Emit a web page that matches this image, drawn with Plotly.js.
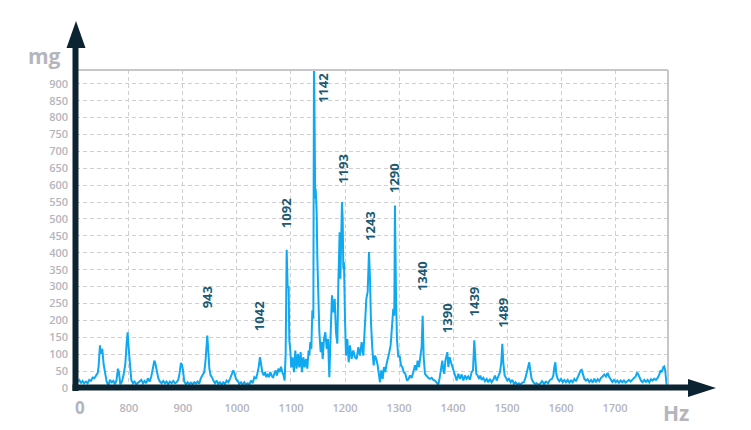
<!DOCTYPE html>
<html>
<head>
<meta charset="utf-8">
<script src="https://cdn.plot.ly/plotly-3.0.1.min.js"></script>
<style>html,body{margin:0;padding:0;background:#fff;}#chart{width:751px;height:430px;}</style>
</head>
<body>
<div id="chart"></div>
<script>
// Frequency (Hz) and mass (mg) of the spectrum line
const freqHz = [
705,708,711,714,717,720.4,723.4,726.5,729.6,732.7,735.8,738.9,742,743.8,746.3,748.1,750.6,753,755.5,758.6,761.7,764.8,767.9,771,774,777,779.6,781.4,783.9,787,790,793.2,795.6,797.5,799.3,801.8,804.3,807.4,810.4,813.5,816.6,819.7,822.8,825.9,829,832,835.1,838.2,841.3,844.4,846.9,848.7,851.2,854.3,857.3,860.4,863.5,866.6,869.7,872.8,875.8,878.9,882,885.1,888.2,891.3,893.7,896.2,898,899.9,902.4,905.5,908.6,911.6,914.7,917.8,920.9,924,927,930,
933.3,936.4,939.5,942,943.8,945,946.9,948.8,951.2,953.7,956.2,959.3,962.4,965.4,968.5,971.6,974.7,977.8,980.9,984,987,990.1,993.2,995.7,998.1,1001.2,1004.3,1007.4,1010.5,1013.6,1016.6,1019.7,1022.8,1025.9,1029,1032.1,1035.2,1037.6,1040.1,1042.6,1044.4,1046.9,1049.4,1051.8,1054.3,1056.8,1059.2,1061.7,1064.2,1066.6,1069.1,1071.6,1074,1076.5,1079,1081.4,1083.9,1086.4,1088.2,1090.1,1092,1093.8,1095.6,1096.9,1098.7,1100.6,1103,1105.5,1108,1110.4,1112.9,1115.4,1117.8,1120.3,1122.8,1125.2,1127.7,1130.2,1132.6,
1134,1135.8,1137.7,1139.5,1141.4,1142.6,1143.8,1144.8,1145.7,1147.5,1148.8,1150.6,1152.5,1155,1156.8,1158.7,1161.1,1163.6,1166,1168.5,1171,1173.5,1175.9,1178.4,1180.9,1183.3,1185.8,1187.7,1188.9,1190.1,1191.4,1192.6,1194.4,1195.7,1196.9,1198.1,1200,1201.8,1204.3,1206.8,1209.2,1212.3,1215.4,1218.5,1221.6,1224.7,1227.8,1230.8,1233.9,1237,1239.5,1242,1244.4,1246.3,1248.1,1250.6,1253.1,1255.5,1258,1260.5,1262.9,1264.8,1267.2,1269.7,1272.2,1274.6,1277.1,1279.6,1282,1284.5,1287,1289.4,1291.3,1292.5,1294.4,1296.2,1298.7,1301.2,1303.6,1306.1,1308.6,1311.7,1314.8,1317.8,
1320.4,1323.4,1326.5,1329.6,1332.1,1334.5,1337,1339.5,1341.9,1343.8,1345.7,1348.1,1351.2,1354.3,1357.4,1360.5,1363.6,1366.6,1369.7,1372.8,1375.3,1377.7,1380.2,1382.1,1383.9,1385.8,1387.6,1389.5,1391.3,1393.8,1396.3,1398.7,1401.2,1403.6,1406.7,1409.8,1412.9,1416,1419.1,1422.2,1425.2,1428.3,1431.4,1434.5,1437,1439.4,1441.3,1443.1,1445.6,1448.1,1450.5,1453,1456.1,1459.2,1462.3,1465.3,1468.4,1471.5,1474.6,1477.7,1480.8,1483.9,1487,1489.4,1491.3,1493.1,1495.6,1498.1,1500.5,1503.6,1506.7,1509.8,1512.9,1515.9,1519,1522.1,1525.2,1528.3,1531.4,1534.5,1536.9,1539.4,1541.2,1543.1,1545.6,1548.6,1551.7,1554.8,1557.9,
1561.1,1564.8,1568.5,1572.2,1575.9,1579.6,1583.3,1585.8,1587.6,1589.5,1591.3,1593.8,1596.9,1600,1603.1,1606.1,1609.2,1612.3,1615.4,1618.5,1621.6,1624.7,1627.7,1630.8,1633.9,1636.4,1638.2,1640.7,1643.2,1646.2,1649.3,1652.4,1655.5,1658.6,1661.7,1664.8,1667.8,1670.9,1674,1677.1,1680.2,1683.3,1686.4,1688.8,1691.9,1695,1698.1,1701.2,1704.2,1707.3,1710.4,1713.5,1716.6,1719.7,1722.8,1725.8,1728.9,1732,1735.1,1738.2,1740.6,1742.5,1745,1748.1,1751.1,1754.2,1757.3,1760.4,1763.5,1766.6,1769.6,1772.7,1775.8,1778.9,1782,1784.5,1786.9,1789.4,1791.2,1793.1,1795,1796.8
];
const massMg = [
19,24,14,21,14,19,14,24,21,31,29,37,44,64,126,101,116,71,50,19,7,24,17,21,11,24,57,47,11,19,39,71,131,165,121,62,24,14,19,11,16,19,24,14,21,14,29,19,34,59,81,74,49,29,19,14,21,14,19,11,19,14,21,14,17,24,44,74,69,54,19,11,17,11,16,11,17,13,19,13,
30,37,47,86,145,155,111,57,37,32,22,14,22,12,17,10,17,12,22,17,27,37,52,42,27,22,12,17,10,17,10,14,10,22,14,32,27,42,61,91,67,47,37,47,32,42,32,47,37,30,42,52,37,57,47,63,47,37,22,101,409,298,298,141,111,61,91,47,111,57,101,61,106,47,91,61,86,57,111,
96,136,116,229,205,1000,590,560,589,520,382,264,165,106,136,86,145,165,116,145,32,165,274,224,264,165,131,313,402,461,323,491,550,500,353,372,205,96,145,76,126,86,111,91,86,121,96,136,96,205,264,284,402,323,195,116,67,96,86,67,37,17,52,27,62,47,72,86,106,126,195,234,214,540,284,145,91,96,67,62,47,42,22,27,
37,30,47,67,52,81,62,86,121,214,91,42,34,30,27,30,24,22,16,10,30,62,81,52,42,81,96,106,62,91,76,62,47,34,22,42,27,40,22,37,27,34,24,47,52,141,91,42,37,27,37,24,30,20,27,17,27,17,24,37,22,34,47,76,131,76,37,30,22,27,17,24,12,17,10,14,10,16,17,32,47,62,76,52,27,17,12,14,10,
12,20,12,19,14,24,27,37,62,76,42,27,20,27,17,24,17,24,16,22,17,27,20,32,42,52,54,39,27,22,26,18,24,16,28,17,26,20,30,34,40,34,45,34,24,18,24,17,22,16,22,17,22,16,20,24,19,26,30,34,44,42,30,22,17,24,18,24,17,26,22,27,24,30,40,52,47,62,64,50,17,2
];
// Peak labels
const peakLabels = ["943","1042","1092","1142","1193","1243","1290","1340","1390","1439","1489"];
// Tick values
const xTicks = [800,900,1000,1100,1200,1300,1400,1500,1600,1700];
const yTicks = [0,50,100,150,200,250,300,350,400,450,500,550,600,650,700,750,800,850,900];

// label placement (Hz x, mg for bottom of rotated text, pixel x shift)
const labelPos = [[944,229,0],[1040,161,0],[1092,466,0],[1142,836,10],[1195,599,0],[1245,430,0],[1292,570,0],[1344,280,0],[1388,155,0],[1439,206,0],[1491,173,0]];

const gray = '#b5b5bd';
const navy = '#0c2431';
const labelColor = '#1a5a72';

const trace = {
  x: freqHz, y: massMg, type: 'scatter', mode: 'lines',
  line: {color: '#0fa9f2', width: 2}, hoverinfo: 'skip'
};

const annotations = peakLabels.map((t, i) => ({
  x: labelPos[i][0], y: labelPos[i][1], xref: 'x', yref: 'y',
  text: '<b>' + t + '</b>', showarrow: false, textangle: -90,
  xanchor: 'center', yanchor: 'bottom', xshift: labelPos[i][2],
  font: {family: 'Open Sans', size: 13, color: labelColor}
}));
annotations.push(
  {xref: 'paper', yref: 'paper', x: -0.054, y: 1.044, text: '<b>mg</b>', showarrow: false,
   xanchor: 'center', yanchor: 'middle', font: {family: 'Open Sans', size: 21, color: gray}},
  {xref: 'paper', yref: 'paper', x: 1.0135, y: -0.079, text: '<b>Hz</b>', showarrow: false,
   xanchor: 'center', yanchor: 'middle', font: {family: 'Open Sans', size: 21, color: gray}},
  {xref: 'paper', yref: 'paper', x: 0.0068, y: -0.06, text: '<b>0</b>', showarrow: false,
   xanchor: 'center', yanchor: 'middle', font: {family: 'Open Sans', size: 17, color: gray}}
);

const W = 592, H = 318, L = 76, B = 388;
const px = v => (v - L) / W;
const py = v => (B - v) / H;

const shapes = [
  {type: 'line', xref: 'paper', yref: 'paper', x0: 0, x1: 1, y0: 1, y1: 1, line: {color: '#c6c6cc', width: 2}},
  {type: 'line', xref: 'paper', yref: 'paper', x0: 1, x1: 1, y0: 0, y1: 1, line: {color: '#c6c6cc', width: 2}},
  {type: 'line', xref: 'paper', yref: 'paper', x0: px(75.5), x1: px(75.5), y0: py(391), y1: py(46), line: {color: navy, width: 6}, layer: 'above'},
  {type: 'path', xref: 'paper', yref: 'paper', path: `M ${px(76)},${py(21)} L ${px(66.5)},${py(48)} L ${px(85.5)},${py(48)} Z`, fillcolor: navy, line: {width: 0}, layer: 'above'},
  {type: 'line', xref: 'paper', yref: 'paper', x0: px(72.5), x1: px(690), y0: py(387.5), y1: py(387.5), line: {color: navy, width: 6}, layer: 'above'},
  {type: 'path', xref: 'paper', yref: 'paper', path: `M ${px(716)},${py(388)} L ${px(688)},${py(379)} L ${px(688)},${py(397)} Z`, fillcolor: navy, line: {width: 0}, layer: 'above'}
];

const layout = {
  width: 751, height: 430,
  margin: {l: 76, r: 83, t: 70, b: 42},
  paper_bgcolor: '#ffffff', plot_bgcolor: '#ffffff',
  showlegend: false,
  font: {family: 'Open Sans', color: gray},
  xaxis: {
    range: [701.9, 1798.1], tickvals: xTicks, ticktext: xTicks.map(String),
    showgrid: true, gridcolor: '#cfcfd3', griddash: '4px,3px', gridwidth: 1,
    zeroline: false, showline: false, ticks: '', ticklabelstandoff: 12,
    tickfont: {family: 'Open Sans', size: 11, color: gray, weight: 600}, fixedrange: true
  },
  yaxis: {
    range: [0, 940.8], tickvals: yTicks, ticktext: yTicks.map(String),
    showgrid: true, gridcolor: '#cfcfd3', griddash: '4px,3px', gridwidth: 1,
    zeroline: false, showline: false, ticks: '', ticklabelstandoff: 7,
    tickfont: {family: 'Open Sans', size: 11, color: gray, weight: 600}, fixedrange: true
  },
  annotations: annotations,
  shapes: shapes
};

Plotly.newPlot('chart', [trace], layout, {staticPlot: true, displayModeBar: false});
</script>
</body>
</html>
